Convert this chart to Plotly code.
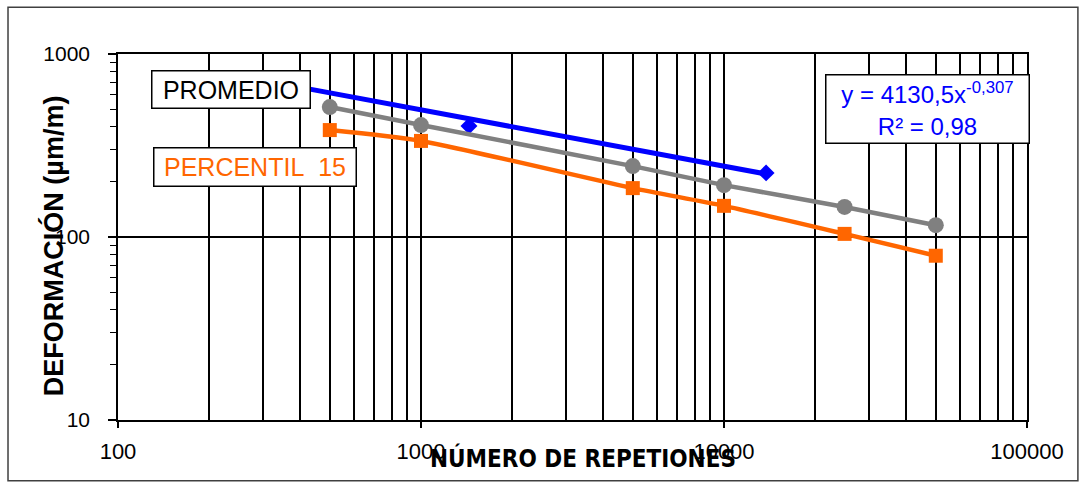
import plotly.graph_objects as go

# ---- data ----
reps = [500, 1000, 5000, 10000, 25000, 50000]
promedio_pts = [513, 409, 244, 192, 146, 116]
percentil15 = [384, 335, 185, 148, 104, 79]
blue_x = [1440, 13770]
blue_y = [404, 224]
trend_x = [400, 13770]
trend_y = [657, 221]

x_major = [100, 1000, 10000, 100000]
x_major_labels = ["100", "1000", "10000", "100000"]
x_minor = [m * d for d in (100, 1000, 10000) for m in range(2, 10)]
y_major = [10, 100, 1000]
y_major_labels = ["10", "100", "1000"]
y_minor = [m * d for d in (10, 100) for m in range(2, 10)]

GRAY = "#808080"
ORANGE = "#FF6600"
BLUE = "#0000FF"
FONT = "Liberation Sans, Arial, sans-serif"

fig = go.Figure()
fig.add_trace(go.Scatter(x=trend_x, y=trend_y, mode="lines",
                         line=dict(color=BLUE, width=5), showlegend=False))
fig.add_trace(go.Scatter(x=blue_x, y=blue_y, mode="markers",
                         marker=dict(color=BLUE, symbol="diamond", size=13),
                         showlegend=False))
fig.add_trace(go.Scatter(x=reps, y=promedio_pts, mode="lines+markers",
                         line=dict(color=GRAY, width=4.5, shape="spline", smoothing=0.6),
                         marker=dict(color=GRAY, symbol="circle", size=16),
                         showlegend=False))
fig.add_trace(go.Scatter(x=reps, y=percentil15, mode="lines+markers",
                         line=dict(color=ORANGE, width=4.5, shape="spline", smoothing=0.6),
                         marker=dict(color=ORANGE, symbol="square", size=14),
                         showlegend=False))

fig.update_xaxes(type="log", range=[2, 5],
                 tickmode="array", tickvals=x_major, ticktext=x_major_labels,
                 ticks="outside", ticklen=6, tickcolor="black", tickwidth=1.5,
                 ticklabelstandoff=5,
                 showgrid=True, gridcolor="black", gridwidth=1.5,
                 showline=True, linecolor="black", linewidth=2, mirror=True,
                 zeroline=False,
                 tickfont=dict(family=FONT, size=22, color="black"),
                 minor=dict(tickmode="array", tickvals=x_minor, showgrid=True,
                            gridcolor="black", gridwidth=1.5, ticks=""))
fig.update_yaxes(type="log", range=[1, 3],
                 tickmode="array", tickvals=y_major, ticktext=y_major_labels,
                 ticks="outside", ticklen=8, tickcolor="black", tickwidth=1.5,
                 ticklabelstandoff=14,
                 showgrid=True, gridcolor="black", gridwidth=1.5,
                 showline=True, linecolor="black", linewidth=1.5, mirror=True,
                 zeroline=False,
                 tickfont=dict(family=FONT, size=21, color="black"),
                 minor=dict(tickmode="array", tickvals=y_minor, showgrid=False,
                            ticks="outside", ticklen=6, tickcolor="black", tickwidth=1))

fig.add_annotation(text="<b>DEFORMACIÓN (µm/m)</b>", xref="paper", yref="paper",
                   x=-0.0715, y=0.475, textangle=-90, showarrow=False,
                   xanchor="center", yanchor="middle",
                   font=dict(family=FONT, size=27, color="black"))
fig.add_annotation(text="<b>NÚMERO DE REPETIONES</b>", xref="paper", yref="paper",
                   x=0.512, y=-0.103, showarrow=False, xanchor="center", yanchor="middle",
                   font=dict(family="Liberation Sans Narrow, DejaVu Sans Condensed, sans-serif",
                             size=24, color="black"))
fig.add_annotation(text="PROMEDIO", xref="paper", yref="paper", x=0.124, y=0.904,
                   showarrow=False, xanchor="center", yanchor="middle",
                   width=155, height=34, borderpad=1, bgcolor="white",
                   bordercolor="black", borderwidth=1.5,
                   font=dict(family=FONT, size=25, color="black"))
fig.add_annotation(text="PERCENTIL&nbsp; 15", xref="paper", yref="paper", x=0.151, y=0.690,
                   showarrow=False, xanchor="center", yanchor="middle",
                   width=199, height=35, borderpad=1, bgcolor="white",
                   bordercolor="black", borderwidth=1.5,
                   font=dict(family=FONT, size=25, color=ORANGE))
fig.add_annotation(text="y = 4130,5x<sup>-0,307</sup><br>R² = 0,98", xref="paper", yref="paper",
                   x=0.891, y=0.851, showarrow=False, xanchor="center", yanchor="middle",
                   width=200, height=65, borderpad=1, bgcolor="white",
                   bordercolor="black", borderwidth=1.5,
                   font=dict(family=FONT, size=24, color=BLUE))

fig.add_shape(type="rect", xref="paper", yref="paper",
              x0=-0.121, x1=1.056, y0=-0.166, y1=1.128,
              line=dict(color="#404040", width=1.5), layer="below")

fig.update_layout(width=1079, height=483,
                  margin=dict(l=118, r=52, t=54, b=63, autoexpand=False),
                  paper_bgcolor="white", plot_bgcolor="white")
fig.write_html("out.html", config={"displayModeBar": False},
               post_script="document.body.style.margin='0px';")
